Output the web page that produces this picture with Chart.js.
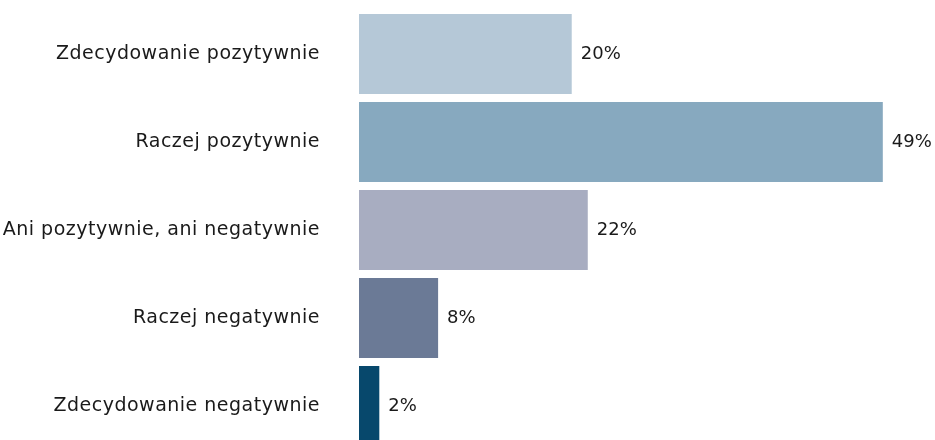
<!DOCTYPE html>
<html>
<head>
<meta charset="utf-8">
<script src="https://cdn.jsdelivr.net/npm/chart.js@4"></script>
<style>
  html, body { margin: 0; padding: 0; background: #fff; overflow: hidden; }
</style>
</head>
<body>
<canvas id="myChart" width="935" height="450"></canvas>
<script>
// dane z wykresu
const categories = [
  'Zdecydowanie pozytywnie',
  'Raczej pozytywnie',
  'Ani pozytywnie, ani negatywnie',
  'Raczej negatywnie',
  'Zdecydowanie negatywnie'
];
const values = [19.9, 49, 21.4, 7.4, 1.9];
const valueLabels = ['20%', '49%', '22%', '8%', '2%'];
const barColors = ['#b5c8d7', '#87a9bf', '#a8adc1', '#6b7a96', '#07486c'];

const fontFamily = '"DejaVu Sans", sans-serif';
const fontSize = 19;

// szerszy tekst etykiet osi (bliżej oryginalnego kroju)
const spacingPlugin = {
  id: 'spacing',
  beforeDraw(chart) {
    chart.ctx.letterSpacing = '0.5px';
  },
  afterDraw(chart) {
    chart.ctx.letterSpacing = '0px';
  }
};

// etykiety wartości obok słupków
const valueLabelPlugin = {
  id: 'valueLabels',
  afterDatasetsDraw(chart) {
    const ctx = chart.ctx;
    const meta = chart.getDatasetMeta(0);
    ctx.save();
    ctx.letterSpacing = '0px';
    ctx.font = '18px ' + fontFamily;
    ctx.fillStyle = '#1a1a1a';
    ctx.textAlign = 'left';
    ctx.textBaseline = 'middle';
    meta.data.forEach((bar, i) => {
      ctx.fillText(valueLabels[i], bar.x + 9, bar.y);
    });
    ctx.restore();
  }
};

const ctx = document.getElementById('myChart').getContext('2d');
const chart = new Chart(ctx, {
  type: 'bar',
  data: {
    labels: categories,
    datasets: [{
      data: values,
      backgroundColor: barColors,
      borderWidth: 0,
      barPercentage: 0.91,
      categoryPercentage: 1
    }]
  },
  options: {
    indexAxis: 'y',
    responsive: false,
    animation: false,
    layout: { padding: { top: 10, bottom: 0, left: 0, right: 41.5 } },
    plugins: {
      legend: { display: false },
      tooltip: { enabled: false }
    },
    scales: {
      x: {
        display: false,
        min: 0,
        max: 50
      },
      y: {
        grid: { display: false, drawTicks: true, tickLength: 39 },
        border: { display: false },
        ticks: {
          padding: 0,
          color: '#1a1a1a',
          font: { family: fontFamily, size: fontSize }
        },
        afterFit(scale) {
          scale.width = 359;
          scale.paddingTop = 0;
          scale.paddingBottom = 0;
        }
      }
    }
  },
  plugins: [spacingPlugin, valueLabelPlugin]
});
</script>
</body>
</html>
